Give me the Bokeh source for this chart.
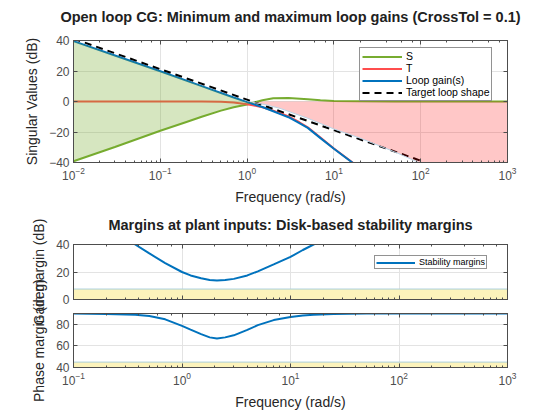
from bokeh.plotting import figure
from bokeh.models import (Range1d, LogAxis, LinearAxis, FixedTicker, Legend, LegendItem,
                          BasicTickFormatter)
from bokeh.layouts import column
from bokeh.embed import file_html
from bokeh.resources import INLINE

# ---------------- data ----------------
# Top panel: singular values (dB) vs frequency (rad/s)
freq_L = [0.01, 0.03, 0.1, 0.3, 0.5, 0.7, 1.0, 1.2, 1.5, 2.0, 2.5, 3.0, 4.0, 5.0, 7.0, 10.0, 16.3, 25.0]
loop_gain_db = [39.6, 30.2, 19.8, 10.1, 5.6, 2.6, -0.4, -1.9, -3.6, -6.4, -8.6, -10.3, -14.2, -17.3, -24.0, -31.0, -40.0, -48.0]

freq_T = [0.01, 0.1, 0.3, 0.5, 0.7, 1.0, 1.2, 1.5, 2.0, 2.5, 3.0, 4.0, 5.0, 7.0, 10.0, 16.3, 25.0]
T_db = [0.0, 0.0, -0.05, -0.2, -0.6, -1.8, -2.6, -3.8, -6.0, -8.0, -9.8, -13.6, -16.9, -23.6, -30.8, -39.9, -48.0]

freq_S = [0.01, 0.03, 0.1, 0.2, 0.3, 0.5, 0.7, 1.0, 1.5, 2.0, 3.0, 5.0, 7.0, 10.0, 20.0, 50.0, 1000.0]
S_db = [-39.2, -29.8, -19.2, -13.4, -10.0, -6.0, -3.8, -2.0, 0.8, 2.2, 2.3, 1.4, 0.8, 0.4, 0.1, 0.0, 0.0]

freq_target = [0.01, 100.0]
target_db = [41.2, -38.8]

# shaded regions of the top panel
green_f = [0.01, 0.03, 0.1, 0.3, 0.5, 0.7, 1.0, 1.12]
green_hi = [39.6, 30.2, 19.8, 10.1, 5.6, 2.6, -0.4, -1.3]
green_lo = [-39.2, -29.8, -19.2, -10.0, -6.0, -3.8, -2.0, -1.3]

red_f = [1.15, 1.6, 2.4, 5.0, 10.0, 20.0, 50.0, 95.0, 1000.0]
red_hi = [-0.5, 0.0, 0.0, 0.0, 0.0, 0.0, 0.0, 0.0, 0.0]
red_lo = [-0.5, -2.0, -4.5, -11.0, -18.0, -24.0, -33.0, -40.0, -40.0]

# Middle panel: disk-based gain margin (dB)
freq_gm = [0.3, 0.37, 0.5, 0.7, 1.0, 1.2, 1.5, 1.8, 2.1, 2.5, 3.0, 4.0, 5.0, 7.0, 10.0, 13.0, 16.3, 20.0]
gm_db = [45.0, 40.0, 33.5, 26.5, 20.0, 17.5, 15.5, 14.2, 13.8, 14.2, 15.0, 17.5, 20.5, 25.5, 31.0, 36.0, 40.0, 43.0]
gm_band_f = [0.1, 1000.0]
gm_band_lo = [0.0, 0.0]
gm_band_hi = [7.6, 7.6]

# Bottom panel: disk-based phase margin (deg)
freq_pm = [0.1, 0.2, 0.37, 0.5, 0.7, 1.0, 1.2, 1.5, 1.8, 2.1, 2.5, 3.0, 4.0, 5.0, 7.0, 10.0, 13.0, 16.3, 25.0, 50.0, 100.0, 1000.0]
pm_deg = [89.9, 89.6, 88.8, 87.6, 84.6, 78.6, 75.0, 70.9, 67.9, 66.9, 67.9, 69.8, 74.8, 79.2, 83.9, 86.8, 88.2, 88.8, 89.5, 89.9, 90.0, 90.0]
pm_band_f = [0.1, 1000.0]
pm_band_lo = [40.0, 40.0]
pm_band_hi = [45.0, 45.0]

sv_ticks = [-40, -20, 0, 20, 40]
gm_ticks = [0, 20, 40]
pm_ticks = [40, 60, 80]

# ---------------- style ----------------
FONT = "Liberation Sans"
AX = "#4d4d4d"
TXT = "#262626"
GRID = "#e3e3e3"
BLUE = "#0072BD"
GREEN = "#77AC30"
RED = "#FF4D4D"
YELLOW = "#FCF2B4"


def hide_labels(a):
    a.formatter = BasicTickFormatter()
    a.major_label_text_color = None
    a.major_label_text_font_size = "1px"
    a.major_label_standoff = 0


def make_fig(xr, yr, yticks, top, fh, bottom, title=None, xlabel=None, ylabel=None,
             show_xlabels=True, title_gap=10):
    p = figure(x_axis_type="log", x_range=xr, y_range=yr,
               frame_width=434, frame_height=fh,
               min_border_left=73, min_border_right=45,
               min_border_top=top, min_border_bottom=bottom,
               output_backend="svg", toolbar_location=None,
               background_fill_color="white")
    p.border_fill_color = None
    p.outline_line_color = AX
    p.outline_line_width = 1
    xa = p.xaxis[0]
    ya = p.yaxis[0]
    ya.ticker = FixedTicker(ticks=yticks)
    for a in (xa, ya):
        a.axis_line_color = AX
        a.major_tick_line_color = AX
        a.minor_tick_line_color = AX
        a.major_tick_in = 4
        a.major_tick_out = 0
        a.minor_tick_in = 2
        a.minor_tick_out = 0
        a.major_label_text_font = FONT
        a.major_label_text_font_size = "12px"
        a.major_label_text_color = "#4d4d4d"
        a.axis_label_text_font = FONT
        a.axis_label_text_font_size = "14px"
        a.axis_label_text_font_style = "normal"
        a.axis_label_text_color = TXT
    ya.minor_tick_line_color = None
    ya.major_label_standoff = 4
    ya.axis_label_standoff = 6
    xa.major_label_standoff = 4
    xa.axis_label_standoff = 6
    if ylabel:
        ya.axis_label = ylabel
    if xlabel:
        xa.axis_label = xlabel
    if not show_xlabels:
        hide_labels(xa)
    # mirrored tick-only axes on top and right; the top one carries the panel title
    ta = LogAxis(axis_line_color=AX, major_tick_line_color=AX, minor_tick_line_color=AX,
                 major_tick_in=4, major_tick_out=0, minor_tick_in=2, minor_tick_out=0)
    hide_labels(ta)
    if title:
        ta.axis_label = title
        ta.axis_label_text_font = FONT
        ta.axis_label_text_font_size = "14.5px"
        ta.axis_label_text_font_style = "bold"
        ta.axis_label_text_color = "#212121"
        ta.axis_label_standoff = title_gap
    ra = LinearAxis(ticker=FixedTicker(ticks=yticks), axis_line_color=AX, major_tick_line_color=AX,
                    minor_tick_line_color=None, major_tick_in=4, major_tick_out=0)
    hide_labels(ra)
    p.add_layout(ta, "above")
    p.add_layout(ra, "right")
    p.xgrid.grid_line_color = GRID
    p.ygrid.grid_line_color = GRID
    p.ygrid.ticker = FixedTicker(ticks=yticks)
    return p


# ---------------- top panel ----------------
p1 = make_fig(Range1d(0.01, 1000), Range1d(-40, 40), sv_ticks, 40, 122, 42,
              title="Open loop CG: Minimum and maximum loop gains (CrossTol = 0.1)",
              xlabel="Frequency (rad/s)", ylabel="Singular Values (dB)", title_gap=16)
# lines first, translucent regions drawn on top of them (as in the reference)
rS = p1.line(freq_S, S_db, line_color=GREEN, line_width=2)
rT = p1.line(freq_T, T_db, line_color=RED, line_width=2)
rL = p1.line(freq_L, loop_gain_db, line_color=BLUE, line_width=2)
rG = p1.line(freq_target, target_db, line_color="black", line_width=2, line_dash="7 5")
p1.varea(x=green_f, y1=green_lo, y2=green_hi, fill_color=GREEN, fill_alpha=0.3)
p1.varea(x=red_f, y1=red_lo, y2=red_hi, fill_color="#FF0000", fill_alpha=0.22)
p1.line(red_f, red_lo, line_color="#b9d3e6", line_width=1)
leg1 = Legend(items=[LegendItem(label="S", renderers=[rS]),
                     LegendItem(label="T", renderers=[rT]),
                     LegendItem(label="Loop gain(s)", renderers=[rL]),
                     LegendItem(label="Target loop shape", renderers=[rG])],
              location=(286, 61), border_line_color="#262626", border_line_width=1,
              label_text_font=FONT, label_text_font_size="10.5px", label_text_color="black",
              glyph_width=40, glyph_height=11, label_height=11, spacing=0, padding=2,
              margin=0, label_standoff=4, background_fill_color="white", background_fill_alpha=1)
p1.add_layout(leg1)

# ---------------- middle panel ----------------
p2 = make_fig(Range1d(0.1, 1000), Range1d(0, 40), gm_ticks, 37, 55, 31,
              title="Margins at plant inputs: Disk-based stability margins",
              ylabel="Gain margin (dB)", show_xlabels=False, title_gap=12)
rM = p2.line(freq_gm, gm_db, line_color=BLUE, line_width=2)
p2.varea(x=gm_band_f, y1=gm_band_lo, y2=gm_band_hi, fill_color=YELLOW, fill_alpha=0.9)
p2.line(gm_band_f, gm_band_hi, line_color="#a9cfdc", line_width=1)
leg2 = Legend(items=[LegendItem(label="Stability margins", renderers=[rM])],
              location=(301, 30), border_line_color="#262626", border_line_width=1,
              label_text_font=FONT, label_text_font_size="9px", label_text_color="black",
              glyph_width=39, glyph_height=9, label_height=9, spacing=0, padding=1,
              margin=0, label_standoff=4, background_fill_color="white", background_fill_alpha=1)
p2.add_layout(leg2)

# ---------------- bottom panel ----------------
p3 = make_fig(Range1d(0.1, 1000), Range1d(40, 90), pm_ticks, 34, 54, 42,
              xlabel="Frequency (rad/s)", ylabel="Phase margin (deg)")
p3.line(freq_pm, pm_deg, line_color=BLUE, line_width=2)
p3.varea(x=pm_band_f, y1=pm_band_lo, y2=pm_band_hi, fill_color=YELLOW, fill_alpha=0.9)
p3.line(pm_band_f, pm_band_hi, line_color="#a9cfdc", line_width=1)
p3.margin = (-51, 0, 0, 0)

layout = column(p1, p2, p3, spacing=0)
open("out.html", "w").write(file_html(layout, INLINE))
